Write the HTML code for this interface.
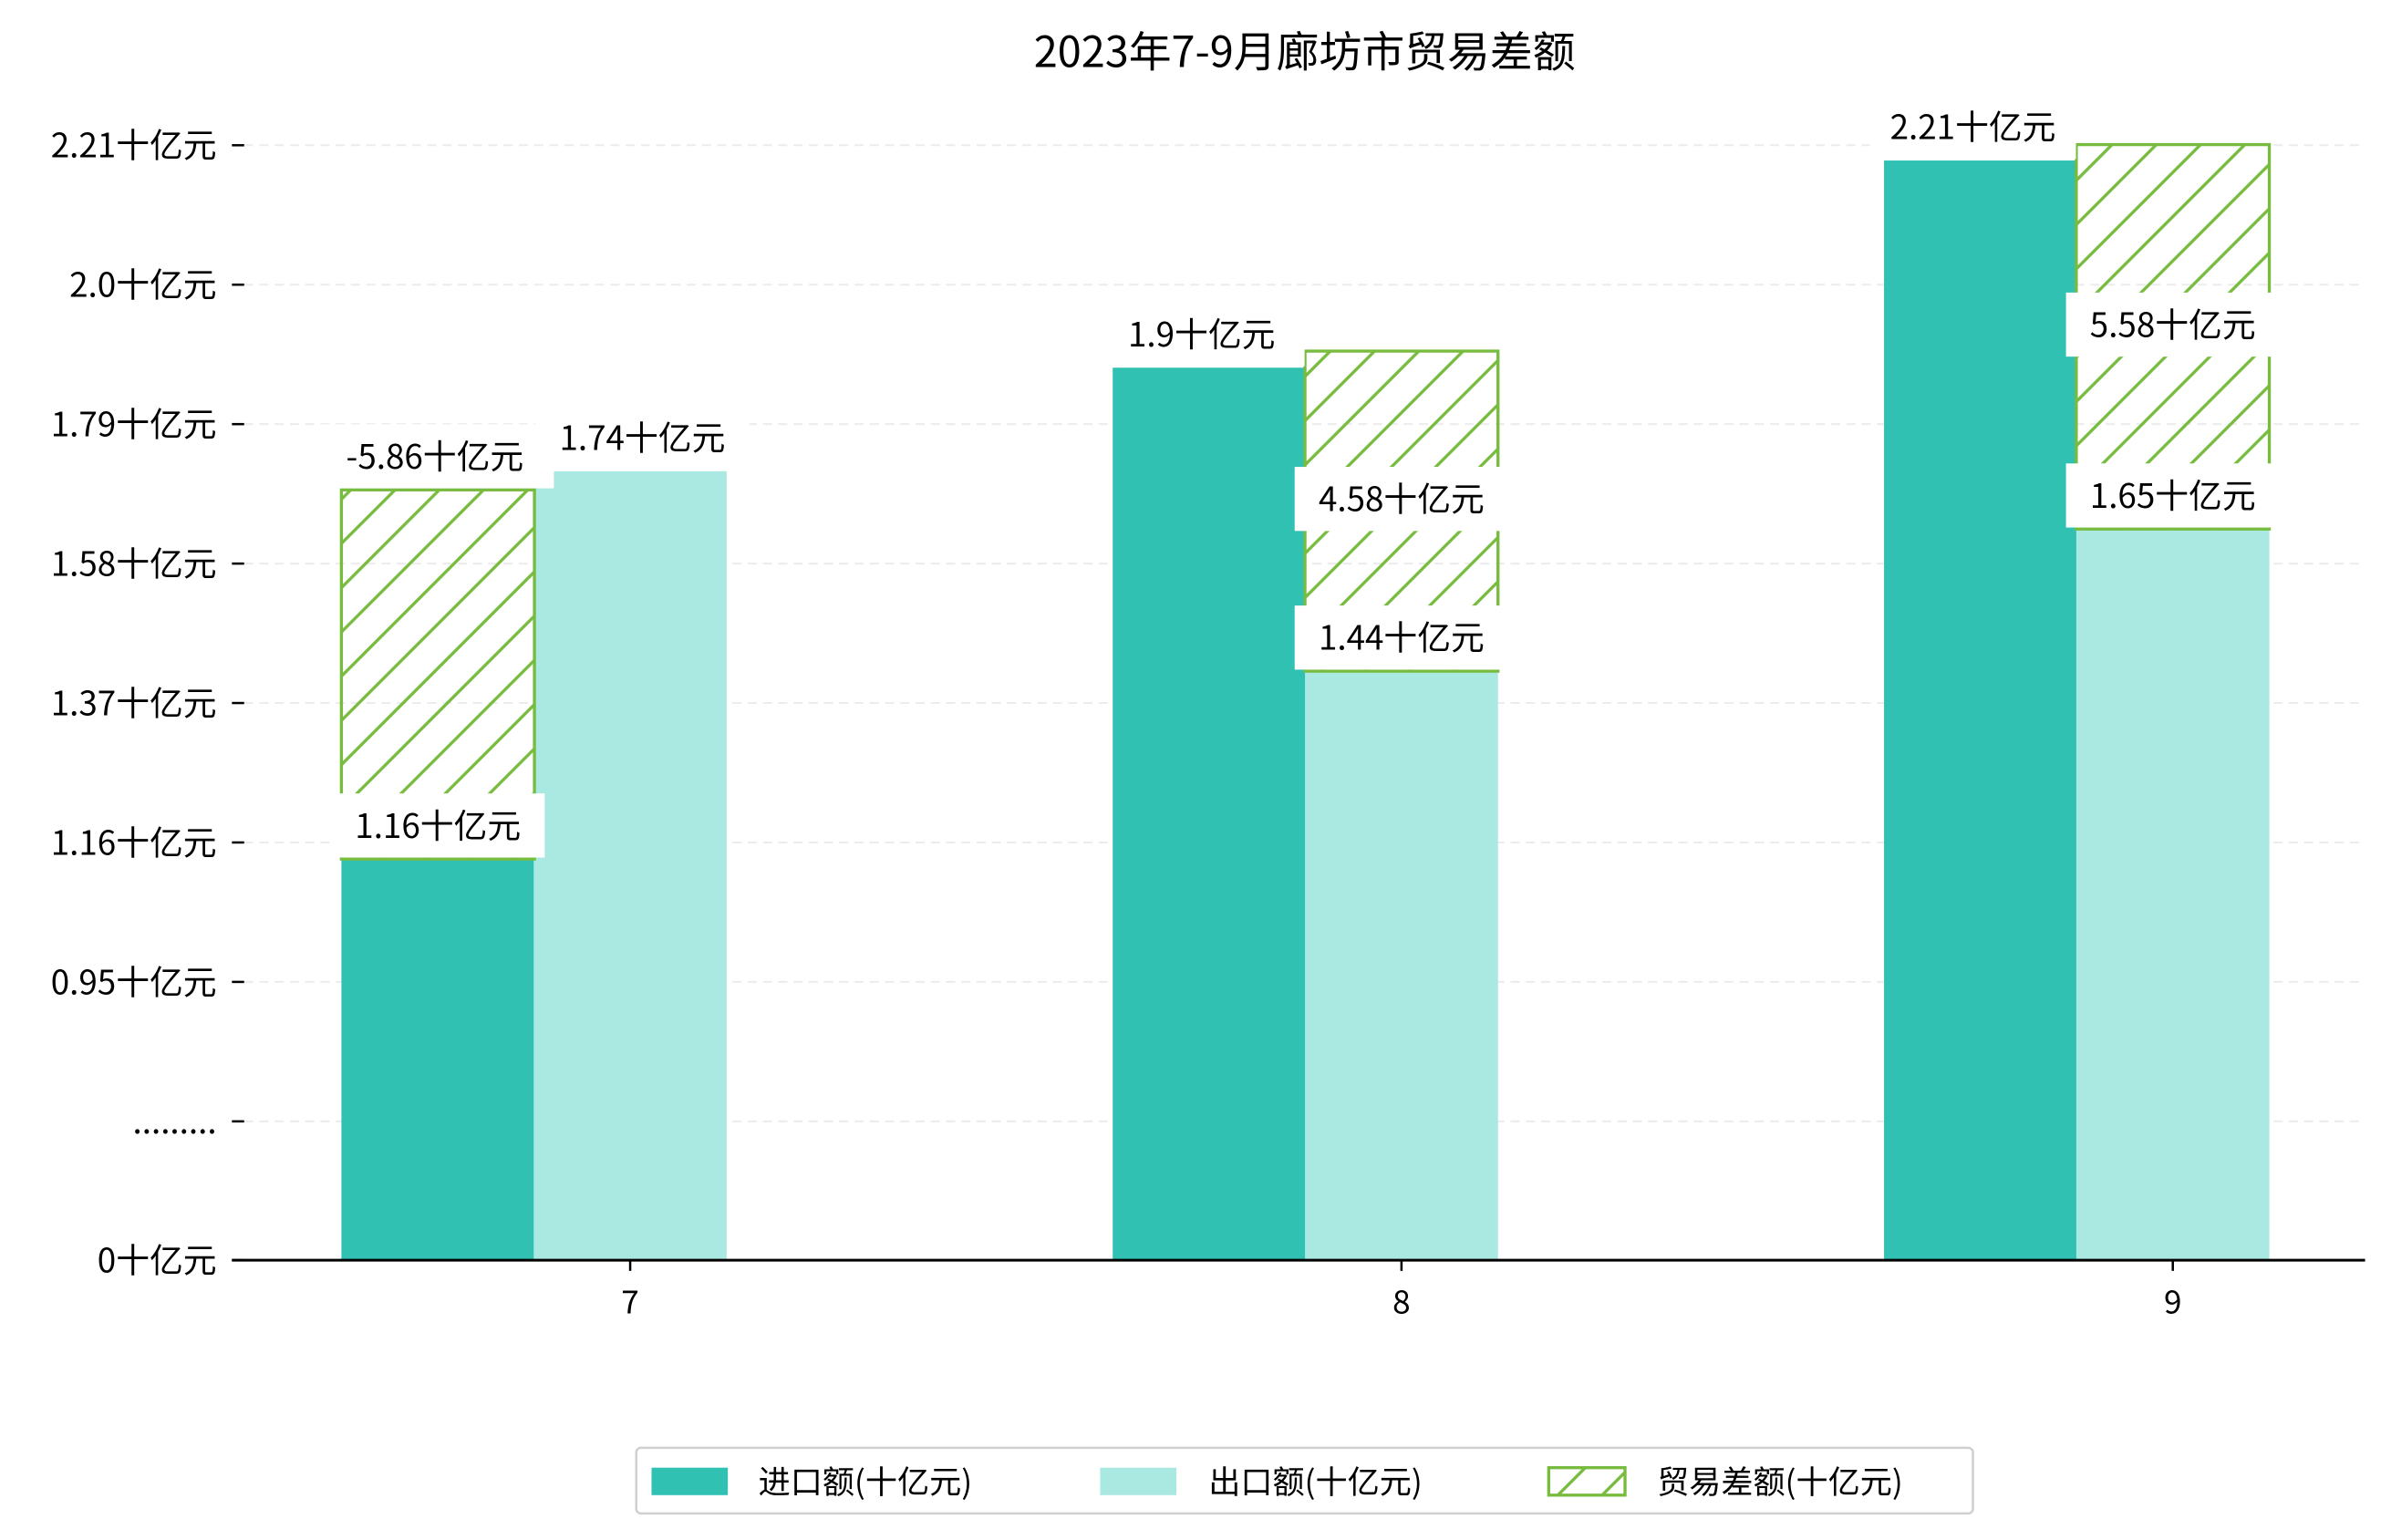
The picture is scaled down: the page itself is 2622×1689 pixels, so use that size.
<!DOCTYPE html>
<html><head><meta charset="utf-8"><style>
html,body{margin:0;padding:0;background:#fff;}
svg{display:block;}
text{font-family:"WenQuanYi Zen Hei","Noto Sans CJK SC","Liberation Sans",sans-serif;}
</style></head><body>
<svg id="chart" width="2622" height="1689" viewBox="0 0 1567 1009.4" xmlns="http://www.w3.org/2000/svg">
<defs>
<pattern id="hatch" patternUnits="userSpaceOnUse" width="29" height="29">
<path d="M-2,31 L31,-2 M-8,8 L8,-8 M21,37 L37,21" stroke="#77bb3f" stroke-width="2"/>
</pattern>
</defs>
<text x="855" y="44" font-size="28" text-anchor="middle" fill="#000">2023年7-9月廊坊市贸易差额</text>
<g id="grid"></g><g id="bars"></g><g id="labels"></g><g id="axes"></g>
<g>
<rect x="417" y="949" width="876" height="43" rx="3" fill="#fff" stroke="#d0d0d0" stroke-width="1.5"/>
<rect x="427" y="962" width="50" height="18" fill="#31c1b3"/>
<text x="497" y="979" font-size="21">进口额(十亿元)</text>
<rect x="721" y="962" width="50" height="18" fill="#aae8e2"/>
<text x="792" y="979" font-size="21">出口额(十亿元)</text>
<rect x="1015" y="962" width="50" height="18" fill="url(#hatch)" stroke="#77bb3f" stroke-width="2"/>
<text x="1086" y="979" font-size="21">贸易差额(十亿元)</text>
</g>
</svg>
<script>
const categories = ["7", "8", "9"];
const importValues = [1.135, 1.875, 2.187];
const exportValues = [1.719, 1.418, 1.632];
const balanceTop = [1.691, 1.900, 2.211];
const importLabels = ["1.16十亿元", "1.9十亿元", "2.21十亿元"];
const exportLabels = ["1.74十亿元", "1.44十亿元", "1.65十亿元"];
const balanceLabels = ["-5.86十亿元", "4.58十亿元", "5.58十亿元"];
const balanceOnImportSide = [true, false, false];
const tickValues = [0, 0.74, 0.95, 1.16, 1.37, 1.58, 1.79, 2.0, 2.21];
const tickLabels = ["0十亿元", ".........", "0.95十亿元", "1.16十亿元", "1.37十亿元", "1.58十亿元", "1.79十亿元", "2.0十亿元", "2.21十亿元"];

const NS = "http://www.w3.org/2000/svg";
const baseY = 826, brkY = 735, brkV = 0.74, step = 91.4 / 0.21;
function yScale(v) {
  if (v >= brkV) return brkY - (v - brkV) * step;
  return baseY - (v / brkV) * (baseY - brkY);
}
const x0 = 413, xStep = 505.5, bw = 126.5;
function xCenter(i) { return x0 + i * xStep; }
function mk(tag, attrs, parent) {
  const e = document.createElementNS(NS, tag);
  for (const k in attrs) e.setAttribute(k, attrs[k]);
  parent.appendChild(e); return e;
}
const grid = document.getElementById('grid'), bars = document.getElementById('bars'),
      labels = document.getElementById('labels'), axes = document.getElementById('axes');

tickValues.forEach((v, i) => {
  const y = yScale(v);
  if (v > 0) {
    const g = mk('line', {x1: 160, x2: 1550, y1: y, y2: y, stroke: '#ececec', 'stroke-width': 1.2, 'stroke-dasharray': '6,4'}, grid);
    
    
  }
  const t = mk('line', {x1: 152, x2: 160, y1: y, y2: y, stroke: '#000', 'stroke-width': 1.5}, axes);
  
  
  const l = mk('text', {x: 142, y: y + 8, 'font-size': 22, 'text-anchor': 'end'}, axes);
  l.textContent = tickLabels[i];
  
  
});
const ax = mk('line', {x1: 152, x2: 1550, y1: baseY, y2: baseY, stroke: '#000', 'stroke-width': 1.8}, axes);



function labelBox(cx, cy, txt, w, name) {
  const g = mk('g', {}, labels);
  
  
  mk('rect', {x: cx - w / 2, y: cy - 21, width: w, height: 42, fill: '#fff'}, g);
  const t = mk('text', {x: cx, y: cy + 8, 'font-size': 22, 'text-anchor': 'middle'}, g);
  t.textContent = txt;
}

categories.forEach((c, i) => {
  const cx = xCenter(i);
  const ixL = cx - bw * 1.5 + 0.5, exL = cx - bw / 2;
  const yi = yScale(importValues[i]), ye = yScale(exportValues[i]);
  const bi = mk('rect', {x: ixL, y: yi, width: bw, height: baseY - yi, fill: '#31c1b3'}, bars);
  
  
  const be = mk('rect', {x: exL, y: ye, width: bw, height: baseY - ye, fill: '#aae8e2'}, bars);
  
  
  const bx = balanceOnImportSide[i] ? ixL : exL;
  const yb = yScale(balanceTop[i]);
  const bot = Math.max(yi, ye) > yb ? (balanceOnImportSide[i] ? yi : ye) : baseY;
  const bb = mk('rect', {x: bx, y: yb, width: bw, height: bot - yb, fill: 'url(#hatch)', stroke: '#77bb3f', 'stroke-width': 2}, bars);
  
  

  const tk = mk('line', {x1: cx, x2: cx, y1: baseY, y2: baseY + 7, stroke: '#000', 'stroke-width': 1.5}, axes);
  
  
  const tl = mk('text', {x: cx, y: baseY + 35, 'font-size': 21, 'text-anchor': 'middle'}, axes);
  tl.textContent = c;
  
  

  if (balanceOnImportSide[i]) {
    labelBox(ixL + bw / 2, yi - 22, importLabels[i], 140, 'label-import-' + c);
    labelBox(exL + bw / 2 + 8, ye - 22, exportLabels[i], 140, 'label-export-' + c);
    labelBox(ixL + bw / 2 - 2, yb - 22, balanceLabels[i], 156, 'label-balance-' + c);
  } else {
    labelBox(ixL + bw / 2 - 5, yi - 22, importLabels[i], 135, 'label-import-' + c);
    labelBox(exL + bw / 2, ye - 22, exportLabels[i], 140, 'label-export-' + c);
    labelBox(exL + bw / 2, (yb + ye) / 2 - 8, balanceLabels[i], 140, 'label-balance-' + c);
  }
});
</script>
</body></html>
